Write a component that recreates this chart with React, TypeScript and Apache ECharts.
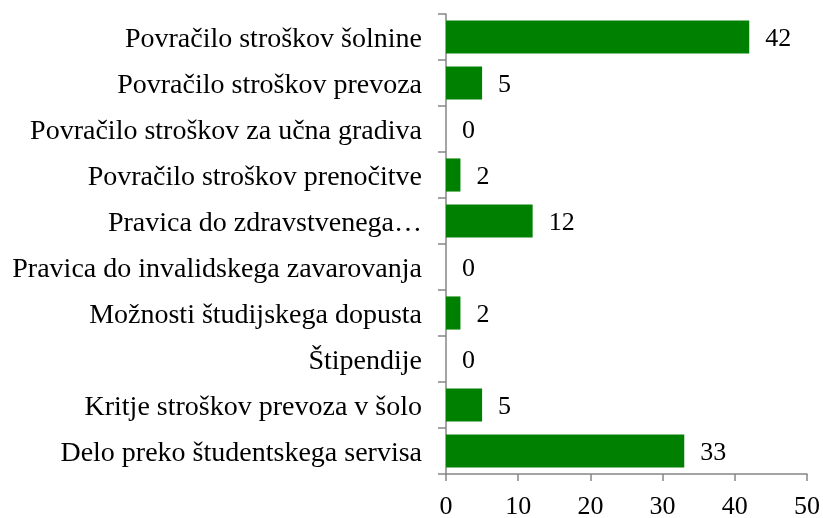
import React, { useEffect, useRef } from "react";
import * as echarts from "echarts";

const categories = [
  "Povračilo stroškov šolnine",
  "Povračilo stroškov prevoza",
  "Povračilo stroškov za učna gradiva",
  "Povračilo stroškov prenočitve",
  "Pravica do zdravstvenega…",
  "Pravica do invalidskega zavarovanja",
  "Možnosti študijskega dopusta",
  "Štipendije",
  "Kritje stroškov prevoza v šolo",
  "Delo preko študentskega servisa",
];
const values = [42, 5, 0, 2, 12, 0, 2, 0, 5, 33];
const FONT = "Liberation Serif";

export default function App() {
  const ref = useRef<HTMLDivElement>(null);
  useEffect(() => {
    if (!ref.current) return;
    const chart = echarts.init(ref.current, null, { renderer: "svg" });
    chart.setOption({
      animation: false,
      grid: { left: 446, top: 14, right: 16, bottom: 40, containLabel: false },
      xAxis: {
        type: "value",
        min: 0,
        max: 50,
        interval: 10,
        axisLine: { show: true, lineStyle: { color: "#868686", width: 1.5 } },
        axisTick: { show: true, length: 7, lineStyle: { color: "#868686", width: 1.5 } },
        splitLine: { show: false },
        axisLabel: { color: "#000", fontFamily: FONT, fontSize: 26, margin: 18 },
      },
      yAxis: {
        type: "category",
        inverse: true,
        data: categories,
        axisLine: { show: true, lineStyle: { color: "#868686", width: 1.5 } },
        axisTick: { show: true, length: 8, lineStyle: { color: "#868686", width: 1.5 } },
        axisLabel: { color: "#000", fontFamily: FONT, fontSize: 28, margin: 24 },
      },
      series: [
        {
          type: "bar",
          data: values,
          barCategoryGap: "28%",
          itemStyle: { color: "#008000" },
          label: {
            show: true,
            position: "right",
            distance: 16,
            color: "#000",
            fontFamily: FONT,
            fontSize: 26,
          },
        },
      ],
    });
    return () => chart.dispose();
  }, []);
  return (
    <div
      ref={ref}
      style={{ position: "fixed", left: 0, top: 0, width: 823, height: 518 }}
    />
  );
}
